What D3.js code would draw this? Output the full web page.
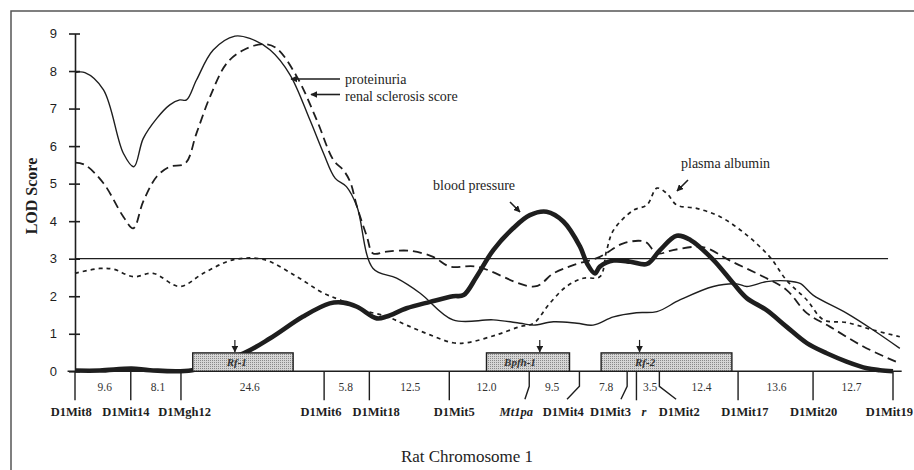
<!DOCTYPE html>
<html>
<head>
<meta charset="utf-8">
<script src="https://cdn.jsdelivr.net/npm/d3@7"></script>
<style>
  body { margin: 0; background: #fff; }
  svg { display: block; }
</style>
</head>
<body>
<div id="chart"></div>
<script>
// LOD axis ticks
const yTicks = [0, 1, 2, 3, 4, 5, 6, 7, 8, 9];
const threshold = 3;

// markers along chromosome 1 (positions in cM)
const markerNames     = ["D1Mit8", "D1Mit14", "D1Mgh12", "D1Mit6", "D1Mit18", "D1Mit5", "Mt1pa", "D1Mit4", "D1Mit3", "r", "D1Mit2", "D1Mit17", "D1Mit20", "D1Mit19"];
const markerPos       = [0, 9.0, 17.1, 40.2, 47.5, 60.4, 73.3, 81.4, 89.1, 90.6, 94.3, 107.0, 119.1, 132.0];
const markerLineEnd   = [0, 9.0, 17.1, 40.2, 47.5, 60.4, 72.6, 79.4, 88.1, 90.6, 97.0, 107.0, 119.1, 132.0];
const markerLabelPos  = [-0.6, 8.2, 17.7, 39.7, 48.6, 61.2, 71.2, 78.8, 86.4, 91.8, 97.5, 108.1, 119.2, 131.4];
const italicMarkers   = ["Mt1pa", "r"];

// distances between markers (cM)
const intervalLabels = ["9.6", "8.1", "24.6", "5.8", "12.5", "12.0", "9.5", "7.8", "3.5", "12.4", "13.6", "12.7"];
const intervalPos    = [4.8, 13.4, 28.2, 43.7, 54.1, 66.4, 77.0, 85.7, 92.8, 101.1, 113.2, 125.3];

// QTL boxes
const qtlNames    = ["Rf-1", "Bpfh-1", "Rf-2"];
const qtlStart    = [19.0, 66.4, 84.9];
const qtlEnd      = [35.2, 79.8, 106.0];
const qtlPeak     = [25.8, 75.0, 91.1];
const qtlLabelPos = [26.1, 71.8, 92.0];
const qtlHeight   = 0.49;

// LOD curves: [position cM, LOD]
const proteinuria = [
  [0, 7.96], [1.6, 7.96], [4.6, 7.5], [7.8, 5.81], [9.5, 5.45], [11.0, 6.2], [13.2, 6.74],
  [15.3, 7.1], [16.9, 7.23], [18.0, 7.23], [19.6, 7.76], [22.3, 8.56], [25.8, 8.93], [28.2, 8.87],
  [31.5, 8.56], [34.7, 7.9], [37.9, 6.7], [40.1, 5.81], [42.0, 5.14], [43.8, 4.92], [45.5, 4.39],
  [48.1, 2.74], [51.9, 2.48], [55.7, 2.08], [61.0, 1.37], [67.5, 1.37], [71.8, 1.28], [74.0, 1.23],
  [77.2, 1.32], [81.0, 1.28], [83.6, 1.23], [86.9, 1.45], [90.6, 1.56], [93.9, 1.59], [97.6, 1.9],
  [103.0, 2.26], [106.8, 2.33], [108.4, 2.26], [111.6, 2.39], [114.8, 2.41], [117.0, 2.34],
  [119.1, 2.03], [124.5, 1.55], [128.8, 1.1], [133.1, 0.61]
];
const renalSclerosis = [
  [0, 5.56], [1.6, 5.5], [4.6, 5.01], [7.8, 4.12], [9.4, 3.81], [11.0, 4.52], [13.2, 5.19],
  [15.3, 5.45], [17.8, 5.54], [19.6, 6.34], [21.8, 7.32], [24.5, 8.21], [27.2, 8.56], [30.4, 8.72],
  [32.5, 8.61], [35.8, 7.85], [39.0, 6.7], [41.7, 5.63], [43.3, 5.36], [44.4, 5.05], [45.5, 4.39],
  [47.1, 3.59], [48.1, 3.14], [50.3, 3.19], [54.1, 3.21], [57.8, 3.05], [60.5, 2.79], [64.8, 2.79],
  [74.2, 2.26], [77.2, 2.61], [80.4, 2.83], [84.7, 3.05], [88.5, 3.41], [92.0, 3.45], [93.9, 3.14],
  [96.5, 3.23], [100.3, 3.32], [102.0, 3.28], [105.7, 2.95], [111.1, 2.52], [114.8, 2.17],
  [118.1, 1.55], [121.8, 1.19], [127.2, 0.66], [133.1, 0.21]
];
const bloodPressure = [
  [0, 0.02], [4.0, 0.02], [9.1, 0.07], [12.1, 0.03], [18.9, 0.03], [27.2, 0.48], [31.5, 0.88],
  [36.8, 1.46], [41.1, 1.81], [43.3, 1.83], [45.5, 1.72], [48.7, 1.41], [50.3, 1.46], [53.5, 1.68],
  [57.3, 1.85], [61.0, 2.0], [62.7, 2.03], [64.8, 2.52], [67.5, 3.23], [70.7, 3.81], [73.4, 4.16],
  [76.1, 4.25], [78.8, 3.99], [81.5, 3.32], [82.6, 2.88], [83.9, 2.61], [84.7, 2.79], [86.9, 2.95],
  [89.6, 2.92], [92.3, 2.86], [94.4, 3.23], [97.1, 3.61], [99.3, 3.5], [103.0, 2.97], [106.2, 2.35],
  [108.4, 1.95], [111.6, 1.63], [114.8, 1.19], [118.1, 0.75], [121.3, 0.48], [124.5, 0.26],
  [127.8, 0.08], [129.9, 0.03], [132.0, 0.0]
];
const plasmaAlbumin = [
  [0, 2.61], [4.0, 2.74], [6.2, 2.72], [9.4, 2.52], [12.6, 2.61], [16.9, 2.26], [20.7, 2.61],
  [25.5, 2.97], [30.4, 2.98], [35.8, 2.52], [40.1, 2.08], [42.8, 1.9], [46.5, 1.63], [50.3, 1.46],
  [53.5, 1.23], [57.3, 0.97], [61.0, 0.76], [63.2, 0.76], [68.0, 0.97], [71.8, 1.19], [74.0, 1.28],
  [76.6, 1.81], [79.3, 2.26], [82.0, 2.48], [84.7, 2.52], [85.8, 3.23], [86.9, 3.76], [90.1, 4.29],
  [92.3, 4.43], [93.9, 4.88], [95.5, 4.74], [97.1, 4.43], [100.3, 4.34], [104.1, 4.12], [108.4, 3.63],
  [112.1, 3.05], [114.8, 2.43], [118.1, 1.9], [120.8, 1.37], [124.5, 1.3], [128.8, 1.1], [133.1, 0.92]
];

const W = 914, H = 470;
const ink = "#1e1e1e";

const svg = d3.select("#chart").append("svg")
    .attr("width", W)
    .attr("height", H)
    .attr("viewBox", `0 0 ${W} ${H}`);

const defs = svg.append("defs");
defs.append("marker")
    .attr("id", "head")
    .attr("viewBox", "0 0 10 10")
    .attr("refX", 9).attr("refY", 5)
    .attr("markerWidth", 7).attr("markerHeight", 7)
    .attr("markerUnits", "userSpaceOnUse")
    .attr("orient", "auto")
    .append("path")
    .attr("d", "M0,0 L10,5 L0,10 Z")
    .attr("fill", ink);

const stip = defs.append("pattern")
    .attr("id", "stipple")
    .attr("width", 2).attr("height", 2)
    .attr("patternUnits", "userSpaceOnUse");
stip.append("rect").attr("width", 2).attr("height", 2).attr("fill", "#d6d6d6");
stip.append("rect").attr("width", 1).attr("height", 1).attr("fill", "#8a8a8a");

// frame (top and left edges visible)
svg.append("path")
    .attr("d", "M11,470 L11,11 L914,11")
    .attr("fill", "none")
    .attr("stroke", "#555")
    .attr("stroke-width", 1.5);

const x = d3.scaleLinear().domain([0, 132]).range([75, 893]);
const y = d3.scaleLinear().domain([0, 9]).range([371.3, 33.5]);

// y axis
const yAxis = svg.append("g")
    .attr("transform", `translate(${x(0)},0)`)
    .call(d3.axisLeft(y).tickValues(yTicks).tickSize(6).tickSizeOuter(0).tickPadding(12));
yAxis.select(".domain").attr("stroke", ink).attr("stroke-width", 1.6);
yAxis.selectAll(".tick line").attr("x1", 5).attr("stroke", ink).attr("stroke-width", 1.6);
yAxis.selectAll(".tick text")
    .attr("fill", ink)
    .style("font-family", "'Liberation Sans', Arial, sans-serif")
    .style("font-size", "13px");

svg.append("text")
    .attr("transform", `translate(37,196) rotate(-90)`)
    .attr("text-anchor", "middle")
    .attr("fill", ink)
    .style("font-family", "'Liberation Serif', 'Times New Roman', serif")
    .style("font-weight", "bold")
    .style("font-size", "16px")
    .text("LOD Score");

// baseline (chromosome) and threshold
svg.append("line")
    .attr("x1", x(-1.2)).attr("x2", x(133.4))
    .attr("y1", y(0)).attr("y2", y(0))
    .attr("stroke", ink).attr("stroke-width", 1.6);

svg.append("line")
    .attr("x1", x(0)).attr("x2", x(131.2))
    .attr("y1", y(threshold)).attr("y2", y(threshold))
    .attr("stroke", ink).attr("stroke-width", 1.3);

// curves
const line = d3.line()
    .x(d => x(d[0]))
    .y(d => y(d[1]))
    .curve(d3.curveCatmullRom.alpha(0.5));

const series = [
    {data: plasmaAlbumin, width: 1.7, dash: "4,4"},
    {data: renalSclerosis, width: 1.8, dash: "9,5"},
    {data: proteinuria, width: 1.4, dash: null},
    {data: bloodPressure, width: 4.6, dash: null}
];

svg.selectAll(".lod")
    .data(series)
    .enter()
    .append("path")
    .attr("class", "lod")
    .attr("d", d => line(d.data))
    .attr("fill", "none")
    .attr("stroke", ink)
    .attr("stroke-width", d => d.width)
    .attr("stroke-dasharray", d => d.dash)
    .attr("stroke-linejoin", "round");

// QTL boxes
const qtl = svg.selectAll(".qtl")
    .data(qtlNames.map((n, i) => ({name: n, s: qtlStart[i], e: qtlEnd[i], p: qtlPeak[i], l: qtlLabelPos[i]})))
    .enter()
    .append("g")
    .attr("class", "qtl");

qtl.append("rect")
    .attr("x", d => x(d.s))
    .attr("y", y(qtlHeight))
    .attr("width", d => x(d.e) - x(d.s))
    .attr("height", y(0) - y(qtlHeight))
    .attr("fill", "url(#stipple)")
    .attr("stroke", ink)
    .attr("stroke-width", 1.4);

qtl.append("text")
    .attr("x", d => x(d.l))
    .attr("y", (y(0) + y(qtlHeight)) / 2 + 4)
    .attr("text-anchor", "middle")
    .attr("fill", "#333")
    .style("font-family", "'Liberation Serif', 'Times New Roman', serif")
    .style("font-style", "italic")
    .style("font-weight", "bold")
    .style("font-size", "11px")
    .text(d => d.name);

qtl.append("line")
    .attr("x1", d => x(d.p)).attr("x2", d => x(d.p))
    .attr("y1", y(qtlHeight) - 13)
    .attr("y2", y(qtlHeight) - 1)
    .attr("stroke", ink)
    .attr("stroke-width", 1.2)
    .attr("marker-end", "url(#head)");

// markers
const base = y(0);
svg.selectAll(".marker")
    .data(markerNames.map((n, i) => ({name: n, p: markerPos[i], e: markerLineEnd[i], l: markerLabelPos[i]})))
    .enter()
    .append("path")
    .attr("class", "marker")
    .attr("d", d => {
        if (d.e === d.p) return `M${x(d.p)},${base} L${x(d.p)},${base + 29}`;
        return `M${x(d.p)},${base} L${x(d.p)},${base + 15} L${x(d.e)},${base + 28}`;
    })
    .attr("fill", "none")
    .attr("stroke", ink)
    .attr("stroke-width", 1.4);

svg.selectAll(".mlabel")
    .data(markerNames.map((n, i) => ({name: n, l: markerLabelPos[i]})))
    .enter()
    .append("text")
    .attr("class", "mlabel")
    .attr("x", d => x(d.l))
    .attr("y", base + 45)
    .attr("text-anchor", "middle")
    .attr("fill", ink)
    .style("font-family", "'Liberation Serif', 'Times New Roman', serif")
    .style("font-weight", "bold")
    .style("font-style", d => italicMarkers.includes(d.name) ? "italic" : "normal")
    .style("font-size", "12.5px")
    .text(d => d.name);

svg.selectAll(".ilabel")
    .data(intervalLabels.map((t, i) => ({t: t, p: intervalPos[i]})))
    .enter()
    .append("text")
    .attr("class", "ilabel")
    .attr("x", d => x(d.p))
    .attr("y", base + 20)
    .attr("text-anchor", "middle")
    .attr("fill", "#333")
    .style("font-family", "'Liberation Serif', 'Times New Roman', serif")
    .style("font-size", "11.5px")
    .text(d => d.t);

// annotations
const serif = "'Liberation Serif', 'Times New Roman', serif";
function note(tx, ty, text, ax1, ay1, ax2, ay2) {
    svg.append("text")
        .attr("x", tx).attr("y", ty)
        .attr("fill", ink)
        .style("font-family", serif)
        .style("font-size", "14px")
        .text(text);
    svg.append("line")
        .attr("x1", ax1).attr("y1", ay1)
        .attr("x2", ax2).attr("y2", ay2)
        .attr("stroke", ink)
        .attr("stroke-width", 1.6)
        .attr("marker-end", "url(#head)");
}
note(345, 84, "proteinuria", 340, 79, 291, 79);
note(345, 101, "renal sclerosis score", 340, 94.5, 311, 94.5);
note(433, 190, "blood pressure", 510, 202, 520, 212);
note(681, 168, "plasma albumin", 688, 180, 677, 191);

svg.append("text")
    .attr("x", 467)
    .attr("y", 462)
    .attr("text-anchor", "middle")
    .attr("fill", ink)
    .style("font-family", serif)
    .style("font-size", "17px")
    .text("Rat Chromosome 1");
</script>
</body>
</html>
